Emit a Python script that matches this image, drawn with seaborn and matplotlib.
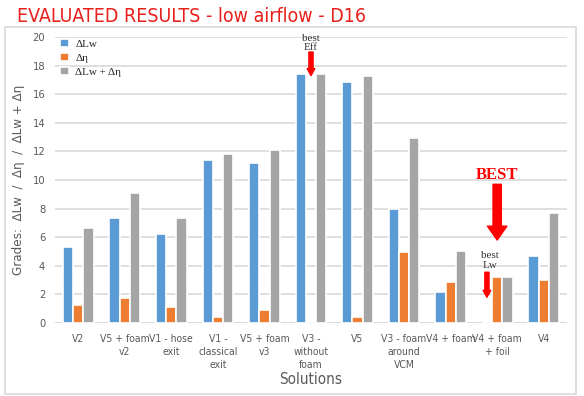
import matplotlib
matplotlib.use("Agg")
import matplotlib.pyplot as plt
import seaborn as sns
import pandas as pd
from matplotlib.patches import Rectangle

# %% Data
solutions = ["V2", "V5 + foam\nv2", "V1 - hose\nexit", "V1 -\nclassical\nexit",
             "V5 + foam\nv3", "V3 -\nwithout\nfoam", "V5", "V3 - foam\naround\nVCM",
             "V4 + foam", "V4 + foam\n+ foil", "V4"]
d_lw = [5.3, 7.37, 6.23, 11.37, 11.16, 17.44, 16.82, 7.96, 2.18, 0.0, 4.67]
d_eta = [1.28, 1.74, 1.14, 0.44, 0.91, 0.0, 0.42, 4.95, 2.86, 3.23, 3.02]
d_sum = [6.63, 9.11, 7.37, 11.84, 12.09, 17.44, 17.26, 12.91, 5.05, 3.23, 7.70]
series = ["ΔLw", "Δη", "ΔLw + Δη"]
colors = ["#5B9BD5", "#ED7D31", "#A5A5A5"]

df = pd.DataFrame({
    "Solution": solutions * 3,
    "Metric": [series[0]] * 11 + [series[1]] * 11 + [series[2]] * 11,
    "Grade": d_lw + d_eta + d_sum,
})

# %% Plot
sns.set_style("white")
plt.rcParams["font.family"] = ["DejaVu Sans"]
plt.rcParams["font.stretch"] = "condensed"
fig = plt.figure(figsize=(5.84, 3.96), dpi=100)
W, H = 584, 396
ax = fig.add_axes([55 / W, 1 - 323 / H, (567 - 55) / W, (323 - 37) / H])

# outer frame of the slide chart
fig.patches.append(Rectangle((5 / W, 2 / H), 571 / W, (394 - 27) / H, transform=fig.transFigure,
                             fill=False, edgecolor="#D9D9D9", linewidth=1.2))

sns.barplot(data=df, x="Solution", y="Grade", hue="Metric", palette=colors, saturation=1,
            width=0.66, edgecolor="white", linewidth=1.2, ax=ax, zorder=3)

ax.set_ylim(0, 20)
ax.set_xlim(-0.5, 10.5)
ax.set_yticks(range(0, 21, 2))
ax.yaxis.grid(True, color="#D9D9D9", linewidth=1.2, zorder=0)
for s in ax.spines.values():
    s.set_visible(False)
ax.axhline(0, color="#D9D9D9", linewidth=1.2, zorder=1)
ax.tick_params(axis="y", length=0, colors="#595959", labelsize=8, pad=7)
ax.tick_params(axis="x", length=0, colors="#595959", labelsize=7.5, pad=8)
for lbl in ax.get_xticklabels():
    lbl.set_linespacing(1.35)

ax.set_xlabel("Solutions", fontsize=11, color="#595959", labelpad=2)
ax.set_ylabel("Grades:  ΔLw  /  Δη  /  ΔLw + Δη", fontsize=9.5, color="#595959")
ax.yaxis.set_label_coords(-30 / 512, 0.5)

leg = ax.legend(loc="upper left", bbox_to_anchor=(-0.005, 1.02), frameon=False,
                prop={"family": "Liberation Serif", "stretch": "normal", "size": 8},
                handlelength=0.75, handleheight=0.75, labelspacing=0.35, handletextpad=0.6,
                borderaxespad=0.3)

fig.text(17 / W, 1 - 16 / H, "EVALUATED RESULTS - low airflow - D16", color="#E8201C",
         fontsize=14, va="center", ha="left")

# annotations
ax.annotate("", xy=(5, 17.3), xytext=(5, 18.95),
            arrowprops=dict(arrowstyle="simple,head_length=0.5,head_width=0.55,tail_width=0.3",
                            color="red", shrinkA=0, shrinkB=0), annotation_clip=False)
ax.text(5, 19.6, "best\nEff", ha="center", va="center", fontsize=8, family="Liberation Serif",
        fontstretch="normal", color="#333333", linespacing=1.0, clip_on=False)

ax.text(9, 10.35, "BEST", ha="center", va="center", fontsize=12, fontweight="bold",
        family="Liberation Serif", fontstretch="normal", color="red")
ax.annotate("", xy=(9, 5.8), xytext=(9, 9.7),
            arrowprops=dict(arrowstyle="simple,head_length=1.0,head_width=1.4,tail_width=0.6",
                            color="red", shrinkA=0, shrinkB=0))

ax.text(8.85, 4.35, "best\nLw", ha="center", va="center", fontsize=8, family="Liberation Serif",
        fontstretch="normal", color="#333333", linespacing=1.1)
ax.annotate("", xy=(8.78, 1.8), xytext=(8.78, 3.55),
            arrowprops=dict(arrowstyle="simple,head_length=0.5,head_width=0.55,tail_width=0.3",
                            color="red", shrinkA=0, shrinkB=0))

fig.savefig("out.png", dpi=100)
